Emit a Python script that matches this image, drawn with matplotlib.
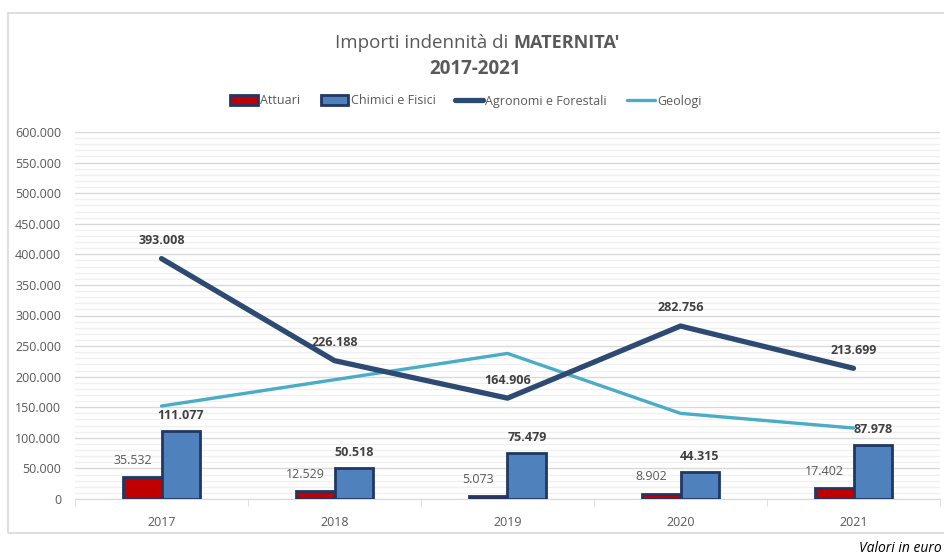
import matplotlib
matplotlib.use("Agg")
import matplotlib.pyplot as plt
import numpy as np
from matplotlib.patches import Rectangle
from matplotlib.ticker import FuncFormatter, MultipleLocator, FixedLocator

years = ["2017", "2018", "2019", "2020", "2021"]
attuari = [35532, 12529, 5073, 8902, 17402]
chimici = [111077, 50518, 75479, 44315, 87978]
agronomi = [393008, 226188, 164906, 282756, 213699]
geologi = [152000, 195000, 238000, 140000, 116000]

FONT = "Open Sans"
GREY = "#595959"
plt.rcParams["font.family"] = [FONT, "DejaVu Sans"]

W, H = 945, 559
fig = plt.figure(figsize=(W / 100, H / 100), dpi=100)
ax = fig.add_axes([75 / W, (H - 499) / H, (940 - 75) / W, (499 - 132) / H])

# border of the chart area
fig.patches.append(Rectangle((8 / W, (H - 533) / H), 1.0, (533 - 13) / H,
                             transform=fig.transFigure, fill=False,
                             edgecolor="#D9D9D9", lw=1.2, zorder=0))

x = np.arange(len(years))
bw = 0.225
ax.bar(x - bw / 2, attuari, bw, color="#C00000", edgecolor="#1F3864",
       linewidth=2, label="Attuari", zorder=3)
ax.bar(x + bw / 2, chimici, bw, color="#4F81BD", edgecolor="#1F3864",
       linewidth=2, label="Chimici e Fisici", zorder=3)
ax.plot(x, geologi, color="#4BACC6", lw=2.4, label="Geologi", zorder=4,
        solid_capstyle="round")
ax.plot(x, agronomi, color="#2C4A72", lw=3.8, label="Agronomi e Forestali",
        zorder=5, solid_capstyle="round")

for i in range(len(years)):
    ax.annotate(f"{attuari[i]:,}".replace(",", "."), (x[i] - bw / 2, attuari[i]),
                xytext=(-7, 12), textcoords="offset points", ha="center",
                va="center", fontsize=9, color=GREY, zorder=6)
    ax.annotate(f"{chimici[i]:,}".replace(",", "."), (x[i] + bw / 2, chimici[i]),
                xytext=(0, 11), textcoords="offset points", ha="center",
                va="center", fontsize=9, color="#404040", fontweight="bold", zorder=6)
    ax.annotate(f"{agronomi[i]:,}".replace(",", "."), (x[i], agronomi[i]),
                xytext=(0, 13), textcoords="offset points", ha="center",
                va="center", fontsize=9, color="#404040", fontweight="bold", zorder=6)

ax.set_xlim(-0.5, len(years) - 0.5)
ax.set_ylim(0, 600000)
ax.yaxis.set_major_locator(MultipleLocator(50000))
ax.yaxis.set_minor_locator(MultipleLocator(10000))
ax.yaxis.set_major_formatter(FuncFormatter(lambda v, p: f"{int(v):,}".replace(",", ".")))
ax.grid(axis="y", which="major", color="#D9D9D9", lw=1, zorder=0)
ax.grid(axis="y", which="minor", color="#F0F0F0", lw=1, zorder=0)
ax.set_axisbelow(True)

ax.set_xticks(x)
ax.set_xticklabels(years)
ax.xaxis.set_minor_locator(FixedLocator(np.arange(-0.5, len(years), 1.0)))
ax.tick_params(axis="x", which="major", length=0, pad=12, labelsize=9, labelcolor=GREY)
ax.tick_params(axis="x", which="minor", length=5, color="#D9D9D9")
ax.tick_params(axis="y", which="both", length=0, pad=10, labelsize=9, labelcolor=GREY)
for s in ["top", "right", "left"]:
    ax.spines[s].set_visible(False)
ax.spines["bottom"].set_color("#D9D9D9")

# title, regular part + bold part
fig.text(508 / W, 1 - 43 / H, "Importi indennità di", ha="right", va="center",
         fontsize=13.5, color=GREY)
fig.text(513 / W, 1 - 43 / H, "MATERNITA'", ha="left", va="center",
         fontsize=13, color=GREY, fontweight="bold")
fig.text(475 / W, 1 - 69 / H, "2017-2021", ha="center", va="center",
         fontsize=13.5, color=GREY, fontweight="bold")

handles, labels = ax.get_legend_handles_labels()
order = [labels.index(l) for l in ["Attuari", "Chimici e Fisici",
                                   "Agronomi e Forestali", "Geologi"]]
fig.legend([handles[i] for i in order], [labels[i] for i in order],
           loc="center", bbox_to_anchor=(466 / W, 1 - 101 / H), ncol=4,
           frameon=False, fontsize=9, handlelength=2.2, handleheight=0.9,
           handletextpad=0.2, columnspacing=1.6, labelcolor=GREY)

fig.text(942 / W, 1 - 549 / H, "Valori in euro", ha="right", va="center",
         fontsize=10, style="italic", color="#000000")

fig.savefig("out.png", dpi=100)
